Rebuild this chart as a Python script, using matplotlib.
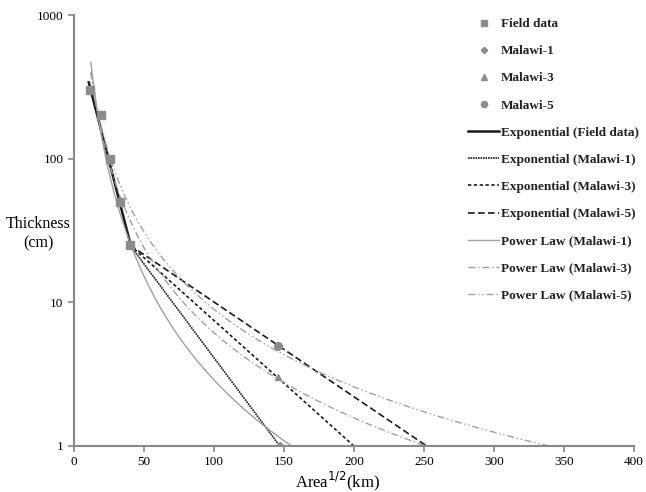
import numpy as np
import matplotlib
matplotlib.use("Agg")
import matplotlib.pyplot as plt

plt.rcParams['font.family'] = ['Liberation Serif', 'DejaVu Serif']

# measured points
field_x = [11.5, 19, 26, 33, 40]
field_y = [300, 200, 100, 50, 25]
malawi1_x, malawi1_y = [147], [1]
malawi3_x, malawi3_y = [146], [3]
malawi5_x, malawi5_y = [146], [5]

# exponential trendlines (straight on a log axis): end points
exp_field_x, exp_field_y = [10.5, 41], [340, 24]
exp_m1_x, exp_m1_y = [40, 147], [25, 1]
exp_m3_x, exp_m3_y = [40, 200], [25, 1]
exp_m5_x, exp_m5_y = [40, 252], [25, 1]

# power law trendlines T = a * x^b, drawn over x range
pl_m1 = (181900, -2.40, 12, 156)
pl_m3 = (53000, -1.968, 12, 252)
pl_m5 = (34300, -1.792, 12, 340)

fig = plt.figure(figsize=(6.46, 4.92), dpi=100)
ax = fig.add_axes([0.1146, 0.0935, 0.8665, 0.876])

mk = '#8c8c8c'
ax.plot(field_x, field_y, 's', color=mk, ms=6, label='Field data', zorder=5)
ax.plot(malawi1_x, malawi1_y, 'D', color=mk, ms=4, label='Malawi-1', zorder=5)
ax.plot(malawi3_x, malawi3_y, '^', color=mk, ms=5, label='Malawi-3', zorder=5)
ax.plot(malawi5_x, malawi5_y, 'o', color=mk, ms=5.5, label='Malawi-5', zorder=5)

dark = '#1a1a1a'
ax.plot(exp_field_x, exp_field_y, '-', color=dark, lw=1.8, label='Exponential (Field data)')
ax.plot(exp_m1_x, exp_m1_y, color=dark, lw=1.2, ls=(0, (1, 0.5)), label='Exponential (Malawi-1)')
ax.plot(exp_m3_x, exp_m3_y, color=dark, lw=1.2, ls=(0, (2, 1.5)), label='Exponential (Malawi-3)')
ax.plot(exp_m5_x, exp_m5_y, color=dark, lw=1.2, ls=(0, (4, 2)), label='Exponential (Malawi-5)')

gray = '#a0a0a0'
styles = [('-', 'Power Law (Malawi-1)'),
          ((0, (5, 2, 1, 2)), 'Power Law (Malawi-3)'),
          ((0, (5, 2, 1, 2, 1, 2)), 'Power Law (Malawi-5)')]
for (a, b, x0, x1), (ls, lab) in zip([pl_m1, pl_m3, pl_m5], styles):
    xs = np.linspace(x0, x1, 300)
    ax.plot(xs, a * xs ** b, color=gray, lw=1.0, ls=ls, label=lab)

ax.set_yscale('log')
ax.set_xlim(0, 400)
ax.set_ylim(1, 1000)
ax.set_xticks(range(0, 401, 50))
ax.set_yticks([1, 10, 100, 1000])
ax.set_yticklabels(['1', '10', '100', '1000'])
ax.yaxis.set_minor_locator(matplotlib.ticker.NullLocator())
ax.tick_params(labelsize=9.5, length=4, width=1.2, color='#888888', direction='out')

for s in ['top', 'right']:
    ax.spines[s].set_visible(False)
for s in ['left', 'bottom']:
    ax.spines[s].set_color('#888888')
    ax.spines[s].set_linewidth(1.5)

ax.set_xlabel('Area$^{1/2}$(km)', fontsize=12)
ax.xaxis.set_label_coords(0.47, -0.055)
fig.text(0.059, 0.525, 'Thickness\n(cm)', fontsize=11.5, ha='center', va='center',
         linespacing=1.35)

leg = ax.legend(loc='upper left', bbox_to_anchor=(0.715, 0.977),
                bbox_transform=fig.transFigure, frameon=False,
                prop={'family': 'Liberation Serif', 'weight': 'bold', 'size': 9.5},
                labelspacing=1.13, handlelength=2.3, handletextpad=0.15,
                borderpad=0, markerscale=0.8)
for t in leg.get_texts():
    t.set_color('#222222')

fig.savefig('out.png', dpi=100)
